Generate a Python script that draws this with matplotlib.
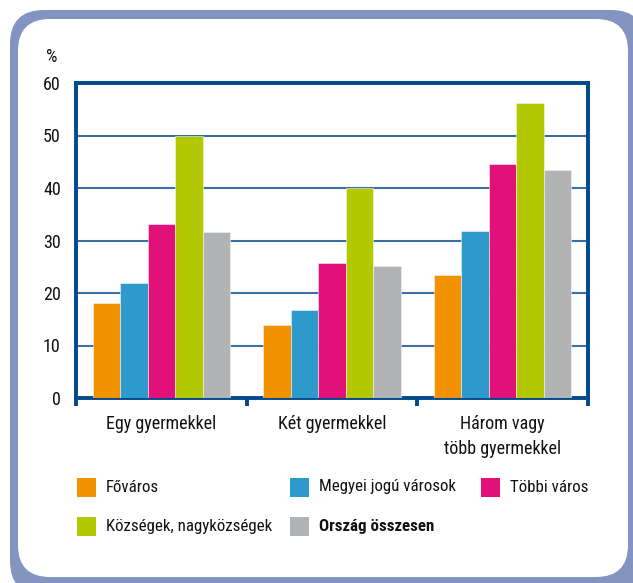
import matplotlib
matplotlib.use("Agg")
import matplotlib.pyplot as plt
from matplotlib.patches import FancyBboxPatch, Rectangle
from matplotlib.transforms import IdentityTransform
import numpy as np

plt.rcParams['font.family'] = ['Roboto Condensed', 'DejaVu Sans']
plt.rcParams['font.stretch'] = 'condensed'

categories = ["Egy gyermekkel", "Két gyermekkel", "Három vagy\ntöbb gyermekkel"]
series_names = ["Főváros", "Megyei jogú városok", "Többi város",
                "Községek, nagyközségek", "Ország összesen"]
fovaros = [18.1, 13.9, 23.5]
megyei = [22.0, 16.7, 31.8]
tobbi = [33.2, 25.7, 44.5]
kozsegek = [50.0, 40.0, 56.2]
orszag = [31.7, 25.2, 43.4]
series_values = [fovaros, megyei, tobbi, kozsegek, orszag]
colors = ["#f29200", "#2e9acb", "#e2117a", "#b3c800", "#b2b3b5"]
yticks = [0, 10, 20, 30, 40, 50, 60]

W, H = 633, 583
FS = 13
LFS = 12.2
fig = plt.figure(figsize=(W / 100, H / 100), dpi=100)

# background frame
outer = FancyBboxPatch((10, -12), 635, 585, boxstyle="round,pad=0,rounding_size=34",
                       transform=IdentityTransform(), facecolor="#8494c1",
                       edgecolor="none", zorder=-20)
inner = FancyBboxPatch((18, 6), 610, 558, boxstyle="round,pad=0,rounding_size=32",
                       transform=IdentityTransform(), facecolor="white",
                       edgecolor="none", zorder=-19)
fig.add_artist(outer)
fig.add_artist(inner)

spine_col = "#004a8c"
ax = fig.add_axes([76 / W, 1 - 398 / H, (588 - 76) / W, (398 - 83) / H])
ax.set_facecolor("none")

x = np.arange(len(categories))
bw = 0.161
for i, (vals, col) in enumerate(zip(series_values, colors)):
    ax.bar(x + (i - 2) * bw, vals, width=bw, color=col, edgecolor="#f4f4f4",
           linewidth=0.4, zorder=3)

ax.set_xlim(-0.5, 2.5)
ax.set_ylim(0, 60)
ax.set_yticks(yticks)
ax.yaxis.grid(True, color="#3b6fa6", linewidth=1.5, zorder=1)
ax.set_axisbelow(True)

for s in ax.spines.values():
    s.set_color(spine_col)
    s.set_linewidth(2.8)

ax.set_xticks(x)
ax.set_xticklabels(categories, fontsize=FS, linespacing=1.55, color="#111111")
ax.set_xticks([-0.5, 0.5, 1.5, 2.5], minor=True)
ax.tick_params(axis="x", which="major", length=0, pad=12)
ax.tick_params(axis="x", which="minor", length=5.5, width=2.8, color=spine_col,
               direction="out")
ax.tick_params(axis="y", length=0, pad=11, labelsize=FS, labelcolor="#111111")

fig.text(52 / W, 1 - 57 / H, "%", ha="center", va="center", fontsize=FS,
         color="#111111")

# legend
legend_pos = [(77, 487), (290, 487), (481, 487), (77, 526), (290, 526)]
for name, col, (lx, ly) in zip(series_names, colors, legend_pos):
    fig.add_artist(Rectangle((lx, H - ly - 9.5), 19, 19, transform=IdentityTransform(),
                             facecolor=col, edgecolor="none"))
    fig.text((lx + 29) / W, 1 - ly / H, name, ha="left", va="center", fontsize=LFS,
             color="#111111",
             fontweight="bold" if name == "Ország összesen" else "normal")

fig.savefig("out.png", dpi=100)
